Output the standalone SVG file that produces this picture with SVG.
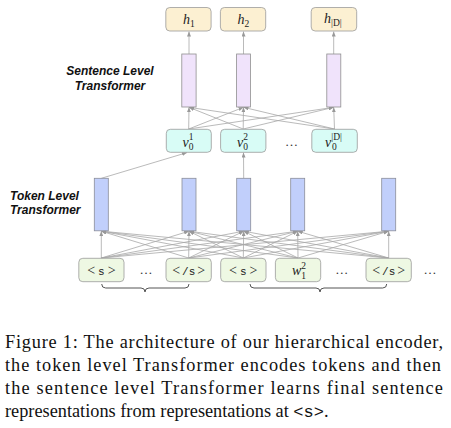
<svg xmlns="http://www.w3.org/2000/svg" width="451" height="428" viewBox="0 0 451 428">
<defs>
<marker id="ah" markerWidth="5" markerHeight="4" refX="5" refY="2" orient="auto" markerUnits="userSpaceOnUse">
<path d="M0,0 L5,2 L0,4 z" fill="#999"/>
</marker>
<style>
.hbox{fill:#fcf0d2;stroke:#9a9a9a;stroke-width:0.8}
.vbox{fill:#d8fcf6;stroke:#9a9a9a;stroke-width:0.8}
.tbox{fill:#eef8e3;stroke:#9a9a9a;stroke-width:0.8}
.pbar{fill:#f0e3fb;stroke:#8f8f8f;stroke-width:0.8}
.bbar{fill:#c1cffb;stroke:#8a8e9a;stroke-width:0.8}
.c line{stroke:#a8a8a8;stroke-width:0.8;marker-end:url(#ah)}
.m{font-family:"Liberation Serif","DejaVu Serif",serif;font-style:italic;font-size:14px;fill:#222}
.r{font-family:"Liberation Serif","DejaVu Serif",serif;font-size:14px;fill:#222}
.sub{font-family:"Liberation Serif","DejaVu Serif",serif;font-style:normal;font-size:9.5px;fill:#222}
.tt{font-family:"Liberation Mono","DejaVu Sans Mono",monospace;font-size:11px;fill:#222}
.dots{font-family:"Liberation Serif",serif;font-size:13px;fill:#333}
.lab{font-family:"Liberation Sans",Arial,sans-serif;font-weight:bold;font-style:italic;font-size:12px;fill:#111}
.cap{font-family:"Liberation Serif","Times New Roman",serif;font-size:18.3px;fill:#111}
.brace{fill:none;stroke:#555;stroke-width:1}
</style>
</defs>

<g id="labels">
<text class="lab" x="110" y="75" text-anchor="middle">Sentence Level</text>
<text class="lab" x="110" y="89.5" text-anchor="middle">Transformer</text>
<text class="lab" x="10" y="200" >Token Level</text>
<text class="lab" x="10" y="214">Transformer</text>
</g>

<g class="c" id="connectors">
<line x1="189" y1="54" x2="189" y2="31.5"/>
<line x1="243.5" y1="54" x2="243.5" y2="31.5"/>
<line x1="333.7" y1="54" x2="333.7" y2="31.5"/>
<line x1="188.7" y1="129" x2="189" y2="107.3"/>
<line x1="188.7" y1="129" x2="243.5" y2="107.3"/>
<line x1="188.7" y1="129" x2="333.7" y2="107.3"/>
<line x1="243.2" y1="129" x2="189" y2="107.3"/>
<line x1="243.2" y1="129" x2="243.5" y2="107.3"/>
<line x1="243.2" y1="129" x2="333.7" y2="107.3"/>
<line x1="334.5" y1="129" x2="189" y2="107.3"/>
<line x1="334.5" y1="129" x2="243.5" y2="107.3"/>
<line x1="334.5" y1="129" x2="333.7" y2="107.3"/>
<line x1="101.3" y1="178.3" x2="187" y2="152.6"/>
<line x1="243.7" y1="178.3" x2="243.5" y2="152.6"/>
<line x1="101.3" y1="258" x2="101.3" y2="231.2"/>
<line x1="101.3" y1="258" x2="189" y2="231.2"/>
<line x1="101.3" y1="258" x2="243.7" y2="231.2"/>
<line x1="101.3" y1="258" x2="297.7" y2="231.2"/>
<line x1="101.3" y1="258" x2="388.7" y2="231.2"/>
<line x1="188.7" y1="258" x2="101.3" y2="231.2"/>
<line x1="188.7" y1="258" x2="189" y2="231.2"/>
<line x1="188.7" y1="258" x2="243.7" y2="231.2"/>
<line x1="188.7" y1="258" x2="297.7" y2="231.2"/>
<line x1="188.7" y1="258" x2="388.7" y2="231.2"/>
<line x1="243.3" y1="258" x2="101.3" y2="231.2"/>
<line x1="243.3" y1="258" x2="189" y2="231.2"/>
<line x1="243.3" y1="258" x2="243.7" y2="231.2"/>
<line x1="243.3" y1="258" x2="297.7" y2="231.2"/>
<line x1="243.3" y1="258" x2="388.7" y2="231.2"/>
<line x1="298" y1="258" x2="101.3" y2="231.2"/>
<line x1="298" y1="258" x2="189" y2="231.2"/>
<line x1="298" y1="258" x2="243.7" y2="231.2"/>
<line x1="298" y1="258" x2="297.7" y2="231.2"/>
<line x1="298" y1="258" x2="388.7" y2="231.2"/>
<line x1="388.7" y1="258" x2="101.3" y2="231.2"/>
<line x1="388.7" y1="258" x2="189" y2="231.2"/>
<line x1="388.7" y1="258" x2="243.7" y2="231.2"/>
<line x1="388.7" y1="258" x2="297.7" y2="231.2"/>
<line x1="388.7" y1="258" x2="388.7" y2="231.2"/>
</g>

<g id="h1"><rect class="hbox" x="165.8" y="7.5" width="45.3" height="23.5" rx="4"/>
<text class="m" x="183" y="24">h<tspan class="sub" dy="2.5">1</tspan></text></g>
<g id="h2"><rect class="hbox" x="220.4" y="7.5" width="45.3" height="23.5" rx="4"/>
<text class="m" x="237.5" y="24">h<tspan class="sub" dy="2.5">2</tspan></text></g>
<g id="hD"><rect class="hbox" x="311.2" y="7.5" width="45.5" height="23.5" rx="4"/>
<text class="m" x="324" y="23">h<tspan class="sub" dy="2.5">|</tspan><tspan class="sub" font-style="italic" font-size="8.5px">D</tspan><tspan class="sub">|</tspan></text></g>

<g id="sbar1"><rect class="pbar" x="181.8" y="54" width="14.3" height="53"/></g>
<g id="sbar2"><rect class="pbar" x="236.6" y="54" width="13.8" height="53"/></g>
<g id="sbar3"><rect class="pbar" x="326.8" y="54" width="14" height="53"/></g>

<g id="v1"><rect class="vbox" x="166.3" y="129.3" width="45" height="23" rx="4"/>
<text class="m" x="182.5" y="146.5">v<tspan class="sub" dy="-6.5">1</tspan><tspan class="sub" dx="-4.8" dy="10">0</tspan></text></g>
<g id="v2"><rect class="vbox" x="220.6" y="129.3" width="45.3" height="23" rx="4"/>
<text class="m" x="237" y="146.5">v<tspan class="sub" dy="-6.5">2</tspan><tspan class="sub" dx="-4.8" dy="10">0</tspan></text></g>
<text class="dots" x="291.5" y="146" text-anchor="middle">…</text>
<g id="vD"><rect class="vbox" x="311.8" y="129.3" width="45.5" height="23" rx="4"/>
<text class="m" x="325" y="146.5">v<tspan class="sub" dy="-6.5">|</tspan><tspan class="sub" font-style="italic" font-size="8.5px">D</tspan><tspan class="sub">|</tspan><tspan class="sub" dx="-10" dy="10">0</tspan></text></g>

<g id="tbar1"><rect class="bbar" x="94.3" y="178.3" width="14" height="52.5"/></g>
<g id="tbar2"><rect class="bbar" x="182" y="178.3" width="14" height="52.5"/></g>
<g id="tbar3"><rect class="bbar" x="236.7" y="178.3" width="14" height="52.5"/></g>
<g id="tbar4"><rect class="bbar" x="290.7" y="178.3" width="14" height="52.5"/></g>
<g id="tbar5"><rect class="bbar" x="381.7" y="178.3" width="14" height="52.5"/></g>

<g id="tok1"><rect class="tbox" x="78.8" y="258.3" width="45.2" height="23.4" rx="4"/>
<text x="101.4" y="274.5" text-anchor="middle"><tspan class="r">&lt;</tspan><tspan class="tt" dx="3">s</tspan><tspan class="r" dx="3">&gt;</tspan></text></g>
<text class="dots" x="146" y="274" text-anchor="middle">…</text>
<g id="tok2"><rect class="tbox" x="166" y="258.3" width="45.3" height="23.4" rx="4"/>
<text x="188.7" y="274.5" text-anchor="middle"><tspan class="r">&lt;</tspan><tspan class="tt" dx="2">/s</tspan><tspan class="r" dx="2">&gt;</tspan></text></g>
<g id="tok3"><rect class="tbox" x="220.7" y="258.3" width="45.3" height="23.4" rx="4"/>
<text x="243.3" y="274.5" text-anchor="middle"><tspan class="r">&lt;</tspan><tspan class="tt" dx="3">s</tspan><tspan class="r" dx="3">&gt;</tspan></text></g>
<g id="tok4"><rect class="tbox" x="275.4" y="258.3" width="45.3" height="23.4" rx="4"/>
<text class="m" x="292" y="275">w<tspan class="sub" dy="-6.5">2</tspan><tspan class="sub" dx="-4.8" dy="10">1</tspan></text></g>
<text class="dots" x="341.7" y="274" text-anchor="middle">…</text>
<g id="tok5"><rect class="tbox" x="366" y="258.3" width="45.3" height="23.4" rx="4"/>
<text x="388.7" y="274.5" text-anchor="middle"><tspan class="r">&lt;</tspan><tspan class="tt" dx="2">/s</tspan><tspan class="r" dx="2">&gt;</tspan></text></g>
<text class="dots" x="430" y="274" text-anchor="middle">…</text>

<g id="braces">
<path class="brace" d="M101.7,284 Q101.7,288 105.7,288 H141 Q145,288 145,292 Q145,288 149,288 H185 Q189,288 189,284"/>
<path class="brace" d="M250,284 Q250,288 254,288 H316 Q320,288 320,292 Q320,288 324,288 H382.7 Q386.7,288 386.7,284"/>
</g>

<g id="caption">
<text class="cap" x="5" y="348.3" textLength="438" lengthAdjust="spacing">Figure 1: The architecture of our hierarchical encoder,</text>
<text class="cap" x="5" y="371" textLength="436" lengthAdjust="spacing">the token level Transformer encodes tokens and then</text>
<text class="cap" x="5" y="394" textLength="438" lengthAdjust="spacing">the sentence level Transformer learns final sentence</text>
<text class="cap" x="5" y="416.5">representations from representations at <tspan font-family="'Liberation Mono',monospace" font-size="17px">&lt;s&gt;</tspan>.</text>
</g>
</svg>
